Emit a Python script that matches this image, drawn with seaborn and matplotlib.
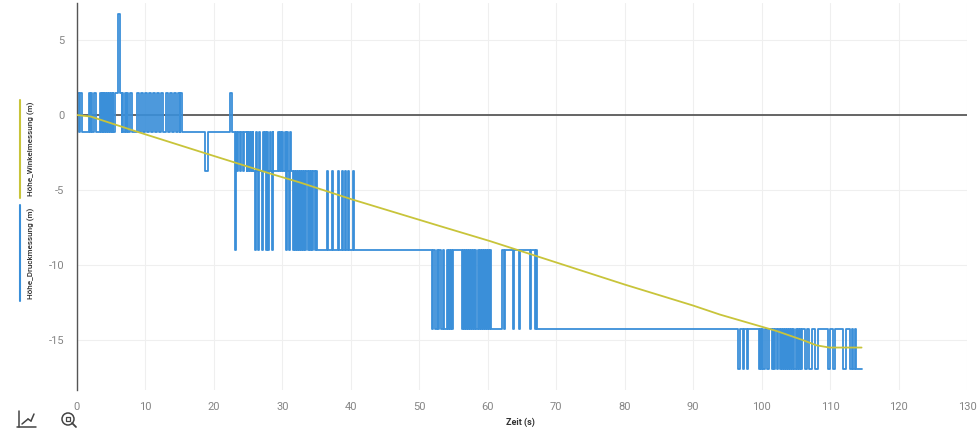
import matplotlib
matplotlib.use("Agg")
import matplotlib.pyplot as plt
from matplotlib.lines import Line2D
from matplotlib.patches import Ellipse, Rectangle
import pandas as pd
import seaborn as sns

# quantised pressure-altitude levels (m)
H, A, B, C, D, E, S = 1.5, -1.13, -3.76, -9.02, -14.28, -16.91, 6.76

# Höhe_Druckmessung: time of each change (s) and the level held from then on
druck_t = [
    0.0, 0.05, 0.3, 0.4, 0.73, 1.75, 1.95, 2.05, 2.19, 2.48, 2.78, 3.36, 3.5, 3.6,
    3.75, 3.85, 3.94, 4.09, 4.25, 4.35, 4.53, 4.67, 4.85, 4.95, 5.1, 5.2, 5.26,
    5.55, 6.05, 6.3, 6.5, 6.6, 6.72, 7.01, 7.2, 7.3, 7.45, 7.74, 8.03, 8.76, 9.06,
    9.35, 9.64, 9.93, 10.22, 10.52, 10.81, 11.1, 11.39, 11.69, 11.98, 12.27, 12.56,
    13.0, 13.29, 13.58, 13.88, 14.17, 14.46, 14.75, 15.0, 15.1, 15.34,
    18.75, 19.1, 22.35, 22.65, 23.08, 23.25, 23.42, 23.55, 23.81, 23.95, 24.2,
    24.39, 24.78, 24.9, 25.0, 25.15, 25.27, 25.4, 25.55, 25.65, 25.76, 26.0, 26.1,
    26.3, 26.49, 26.6, 26.8, 26.98, 27.1, 27.3, 27.46, 27.6, 27.7, 27.8, 27.95,
    28.05, 28.2, 28.35, 28.5, 28.6, 28.68, 29.41, 29.55, 29.7, 29.85, 30.0, 30.15,
    30.38, 30.5, 30.6, 30.7, 30.85, 30.95, 31.05, 31.2,
    31.5, 31.65, 31.8, 31.95, 32.09, 32.25, 32.4, 32.55, 32.7, 32.85, 33.06, 33.2,
    33.35, 33.5, 33.7, 33.85, 34.03, 34.2, 34.35, 34.5, 34.7, 34.85, 35.01, 36.47,
    36.6, 37.2, 37.35, 38.17, 38.3, 38.66, 38.8, 39.15, 39.3, 39.63, 39.75, 40.27,
    40.4,
    51.86, 52.05, 52.29, 52.59, 52.75, 52.88, 53.17, 53.4, 53.61, 54.05, 54.2,
    54.35, 54.48, 54.65, 54.8, 54.92, 56.24, 56.4, 56.55, 56.7, 56.85, 57.0, 57.15,
    57.3, 57.45, 57.6, 57.75, 57.9, 58.05, 58.2, 58.35, 58.5, 58.65, 58.8, 58.95,
    59.1, 59.25, 59.4, 59.55, 59.7, 59.85, 60.0, 60.15, 60.3, 60.47, 62.08, 62.3,
    62.52, 63.69, 63.85, 64.56, 64.71, 66.17, 66.35, 66.9, 67.05, 67.19,
    96.55, 96.85, 97.28, 97.43, 97.87, 98.01, 99.62, 99.8, 99.95, 100.06, 100.2,
    100.5, 100.79, 101.08, 101.52, 101.7, 101.85, 102.0, 102.2, 102.4, 102.69,
    102.85, 103.0, 103.15, 103.3, 103.45, 103.6, 103.75, 103.9, 104.05, 104.2,
    104.35, 104.5, 104.65, 104.8, 104.95, 105.1, 105.25, 105.4, 105.55, 105.7,
    105.85, 106.05, 106.34, 106.63, 106.92, 107.36, 107.8, 108.24, 109.7, 110.0,
    110.43, 110.72, 111.89, 112.33, 112.91, 113.2, 113.35, 113.64, 113.8, 114.66,
]
druck_v = [
    A, H, A, H, A, H, A, H, A, H, A, H, A, H,
    A, H, A, H, A, H, A, H, A, H, A, H, A,
    H, S, H, A, H, A, H, A, H, A, H, A, H, A,
    H, A, H, A, H, A, H, A, H, A, H, A,
    H, A, H, A, H, A, H, A, H, A,
    B, A, H, A, C, A, B, A, B, A, B,
    A, B, A, B, A, B, A, B, A, B, C, A,
    B, C, A, B, C, A, B, A, C, B, A, C,
    B, A, B, C, A, B, A, B, A, B, A, B,
    A, B, C, A, B, C, A, B,
    C, B, C, B, C, B, C, B, C, B, C, B,
    C, B, C, B, C, B, C, B, C, B, C, B,
    C, B, C, B, C, B, C, B, C, B, C, B,
    C,
    D, C, D, C, D, C, D, C, D, C, D,
    C, D, C, D, C, D, C, D, C, D, C, D,
    C, D, C, D, C, D, C, D, C, D, C, D,
    C, D, C, D, C, D, C, D, C, D, C, D,
    C, D, C, D, C, D, C, D, C, D,
    E, D, E, D, E, D, E, D, E, D, E,
    D, E, D, E, D, E, D, E, D, E,
    D, E, D, E, D, E, D, E, D, E,
    D, E, D, E, D, E, D, E, D, E,
    D, D, E, D, E, D, E, D, E, D,
    E, D, E, D, E, D, E, D, E, E,
]

# Höhe_Winkelmessung
winkel_t = [0, 2, 8.7, 18.4, 28.2, 32.6, 40, 53, 60.3, 70.5, 80, 90, 93.9,
            102.2, 106, 108, 109.9, 112, 114.6]
winkel_v = [0, -0.1, -1.1, -2.5, -3.9, -4.5, -5.6, -7.4, -8.4, -9.9, -11.3,
            -12.7, -13.3, -14.4, -15.0, -15.35, -15.5, -15.5, -15.5]

x_ticks = list(range(0, 131, 10))
y_ticks = [-15, -10, -5, 0, 5]

blue = "#3a8fd9"
yellow = "#c8c43a"

sns.set_theme(style="white")
plt.rcParams["font.family"] = ["Roboto", "DejaVu Sans"]

W, Hpx = 977, 430
fig = plt.figure(figsize=(W / 100, Hpx / 100), dpi=100)
ax = fig.add_axes([77 / W, 1 - 390 / Hpx, 890 / W, 387 / Hpx])

druck = pd.DataFrame({"t": druck_t, "v": druck_v})
winkel = pd.DataFrame({"t": winkel_t, "v": winkel_v})

ax.axhline(0, color="#5a5a5a", lw=1.3, zorder=1)
sns.lineplot(data=druck, x="t", y="v", ax=ax, color=blue, lw=1.3,
             estimator=None, sort=False, drawstyle="steps-post", zorder=2)
sns.lineplot(data=winkel, x="t", y="v", ax=ax, color=yellow, lw=1.3,
             estimator=None, sort=False, zorder=3)

ax.set_xlim(0, 130)
ax.set_ylim(-18.33, 7.47)
ax.set_xticks(x_ticks)
ax.set_yticks(y_ticks)
ax.set_xticklabels([str(v) for v in x_ticks])
ax.set_yticklabels([str(v) for v in y_ticks])
ax.grid(True, color="#efefef", lw=0.8)
ax.tick_params(axis="both", length=0, labelsize=8, labelcolor="#858585")
ax.tick_params(axis="x", pad=9)
ax.tick_params(axis="y", pad=9)
for side in ["top", "right", "bottom"]:
    ax.spines[side].set_visible(False)
ax.spines["left"].set_color("#555555")
ax.spines["left"].set_linewidth(1.0)
ax.set_xlabel("")
ax.set_ylabel("")

fig.text(520 / W, 1 - 422 / Hpx, "Zeit (s)", ha="center", va="center",
         fontsize=6.5, fontweight="bold", color="#333333")

# rotated legend entries on the left
fig.text(31 / W, 1 - 149 / Hpx, "Höhe_Winkelmessung (m)", rotation=90,
         ha="center", va="center", fontsize=5.8, fontweight="medium", color="#2a2a2a")
fig.text(31 / W, 1 - 253 / Hpx, "Höhe_Druckmessung (m)", rotation=90,
         ha="center", va="center", fontsize=5.8, fontweight="medium", color="#2a2a2a")
fig.add_artist(Line2D([20 / W, 20 / W], [1 - 100 / Hpx, 1 - 198 / Hpx],
                      color=yellow, lw=1.5, transform=fig.transFigure))
fig.add_artist(Line2D([20 / W, 20 / W], [1 - 205 / Hpx, 1 - 301 / Hpx],
                      color=blue, lw=1.5, transform=fig.transFigure))


def px(x, y):
    return x / W, 1 - y / Hpx


# small toolbar icons bottom left
icon = "#444444"
for xs, ys in [([19, 19], [411, 427]), ([17, 36], [427, 427]),
               ([22, 28], [424, 419]), ([28, 31], [419, 421]), ([31, 34], [421, 414])]:
    p0, p1 = px(xs[0], ys[0]), px(xs[1], ys[1])
    fig.add_artist(Line2D([p0[0], p1[0]], [p0[1], p1[1]], color=icon, lw=1.1,
                          transform=fig.transFigure))
fig.add_artist(Ellipse(px(68, 419), 12 / W, 12 / Hpx, fill=False, ec=icon, lw=1.1,
                       transform=fig.transFigure))
fig.add_artist(Rectangle(px(66, 421), 4 / W, 4 / Hpx, fill=False, ec=icon,
                         lw=0.9, transform=fig.transFigure))
p0, p1 = px(72, 423), px(76, 427)
fig.add_artist(Line2D([p0[0], p1[0]], [p0[1], p1[1]], color=icon, lw=1.3,
                      transform=fig.transFigure))

fig.savefig("out.png", dpi=100)
